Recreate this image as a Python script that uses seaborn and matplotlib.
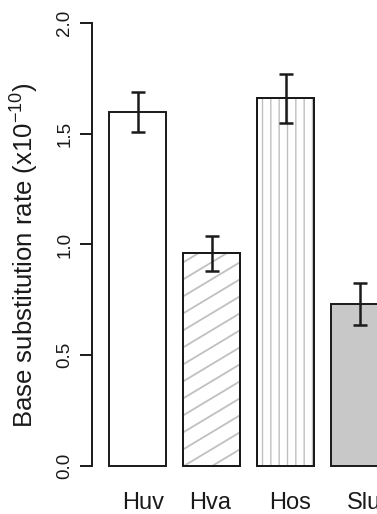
import numpy as np
import pandas as pd
import matplotlib
matplotlib.use("Agg")
import matplotlib.pyplot as plt
import matplotlib.transforms as mtransforms
import seaborn as sns
from matplotlib.lines import Line2D

# ---- data ----
categories = ["Huv", "Hva", "Hos", "Slu"]
rates = [1.60, 0.96, 1.66, 0.73]
errors = [0.09, 0.08, 0.11, 0.095]
yticks = [0.0, 0.5, 1.0, 1.5, 2.0]
ytick_labels = ["0.0", "0.5", "1.0", "1.5", "2.0"]

sns.set_theme(style="white")
plt.rcParams['font.family'] = ['Liberation Sans', 'DejaVu Sans']
plt.rcParams['mathtext.fontset'] = 'custom'
plt.rcParams['mathtext.rm'] = 'Liberation Sans'
plt.rcParams['mathtext.it'] = 'Liberation Sans:italic'
plt.rcParams['hatch.linewidth'] = 1.0

W, H = 377, 514
fig = plt.figure(figsize=(W / 100, H / 100), dpi=100)
y0_px, y2_px = 466, 23
ppu = (y0_px - y2_px) / 2.0
ylo, yhi = -0.05, 2.05
bot_px = y0_px + (-ylo) * ppu
top_px = y2_px - (yhi - 2.0) * ppu
ax_h_px = bot_px - top_px
ax = fig.add_axes([92 / W, (H - bot_px) / H, (W - 92) / W, ax_h_px / H])

df = pd.DataFrame({"cat": categories, "rate": rates})
sns.barplot(data=df, x="cat", y="rate", ax=ax, width=0.77, errorbar=None,
            color="white", edgecolor="#1a1a1a", linewidth=1.4, saturation=1)

step = 74.0
ax.set_xlim((92 - 137.5) / step, (W - 137.5) / step)
ax.set_ylim(ylo, yhi)

fills = ["white", "white", "white", "#c8c8c8"]
for p, fc in zip(ax.patches, fills):
    p.set_facecolor(fc)
    p.set_clip_on(False)
    p.set_zorder(2)

# vertical hatch on Hos (gray lines)
p3 = ax.patches[2]
ax.bar(p3.get_x() + p3.get_width() / 2, rates[2], width=p3.get_width(),
       facecolor="none", edgecolor="#c0c0c0", linewidth=0, hatch="||", zorder=2.5)
ax.bar(p3.get_x() + p3.get_width() / 2, rates[2], width=p3.get_width(),
       facecolor="none", edgecolor="#1a1a1a", linewidth=1.4, zorder=3)
for p in ax.patches:
    p.set_clip_on(False)

# diagonal hatch on Hva (gray lines, ~31 degrees), clipped to the bar
fig.canvas.draw()
p2 = ax.patches[1]
T = ax.transData
(xa, ya), (xb, yb) = T.transform([[0, 0], [1, 1]])
sx, sy = xb - xa, yb - ya  # px per data unit
slope_px = np.tan(np.radians(31))
slope = slope_px * sx / sy
spacing = 17.0 / sy
x_l, x_r = p2.get_x(), p2.get_x() + p2.get_width()
for c in np.arange(-1.0, rates[1] + 0.5, spacing):
    ln = Line2D([x_l, x_r], [c, c + slope * (x_r - x_l)], color="#c0c0c0",
                lw=1.3, zorder=2.5)
    ax.add_line(ln)
    ln.set_clip_path(p2)
ax.bar(p2.get_x() + p2.get_width() / 2, rates[1], width=p2.get_width(),
       facecolor="none", edgecolor="#1a1a1a", linewidth=1.4, zorder=3, clip_on=False)

# error bars
ax.errorbar(np.arange(len(categories)), rates, yerr=errors, fmt="none",
            ecolor="#1a1a1a", elinewidth=1.8, capsize=5.1, capthick=1.8,
            zorder=4, clip_on=False)

# axes styling
for s in ["top", "right", "bottom"]:
    ax.spines[s].set_visible(False)
ax.spines["left"].set_bounds(0, 2)
ax.spines["left"].set_linewidth(1.4)
ax.spines["left"].set_color("#1a1a1a")
ax.set_yticks(yticks)
ax.set_yticklabels(ytick_labels, rotation=90, va="center")
ax.tick_params(axis="y", left=True, length=8.5, width=1.4, color="#1a1a1a",
               labelsize=13.5, pad=5, labelcolor="#1a1a1a")
ax.set_xticks([])
ax.set_xlabel("")

# category labels below bars (slightly offset as in the reference)
label_dx = [6, -1.5, 4.5, 5]
btrans = mtransforms.blended_transform_factory(ax.transData, fig.transFigure)
for i, (lab, dx) in enumerate(zip(categories, label_dx)):
    tr = btrans + mtransforms.ScaledTranslation(dx / 100, 0, fig.dpi_scale_trans)
    ax.text(i, (H - 509) / H, lab, transform=tr, ha="center", va="baseline",
            fontsize=17, color="#1a1a1a", clip_on=False)

ax.set_ylabel("Base substitution rate (x10$^{\u221210}$)", fontsize=18.5,
              color="#1a1a1a")
ax.yaxis.set_label_coords((41 - 92) / 285, (bot_px - 255) / ax_h_px)
ax.grid(False)

fig.savefig("out.png", dpi=100)
